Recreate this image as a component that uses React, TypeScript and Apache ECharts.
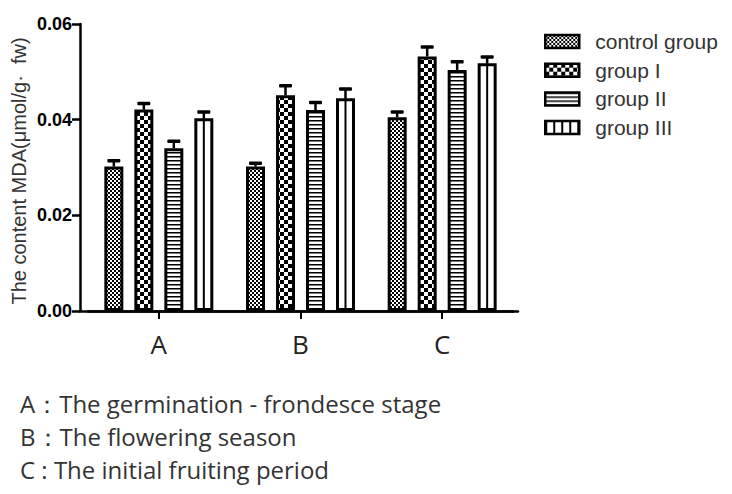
import React, { useEffect, useRef } from "react";
import * as echarts from "echarts";

const categories = ["A", "B", "C"];
const groupNames = ["control group", "group I", "group II", "group III"];
const controlValues = [0.0302, 0.0302, 0.0405];
const group1Values = [0.0421, 0.0451, 0.0532];
const group2Values = [0.034, 0.042, 0.0504];
const group3Values = [0.0403, 0.0445, 0.0518];
const controlErr = [0.0012, 0.0007, 0.0011];
const group1Err = [0.0013, 0.002, 0.002];
const group2Err = [0.0015, 0.0016, 0.0017];
const group3Err = [0.0013, 0.0019, 0.0013];
const yTicks = [0, 0.02, 0.04, 0.06];
const notes = [
  "A：The germination - frondesce stage",
  "B：The flowering season",
  "C : The initial fruiting period",
];
const yTitle = "The content MDA(μmol/g·  fw)";

const BAR_W = 0.134;
const BAR_GAP = 0.58;

function makePattern(w: number, h: number, draw: (ctx: CanvasRenderingContext2D) => void) {
  const c = document.createElement("canvas");
  c.width = w;
  c.height = h;
  const ctx = c.getContext("2d")!;
  ctx.fillStyle = "#fff";
  ctx.fillRect(0, 0, w, h);
  ctx.fillStyle = "#000";
  draw(ctx);
  return { image: c, repeat: "repeat", imageWidth: w, imageHeight: h } as any;
}

export default function App() {
  const ref = useRef<HTMLDivElement>(null);
  useEffect(() => {
    if (!ref.current) return;
    const chart = echarts.init(ref.current, undefined, { renderer: "svg" });

    const pControl = makePattern(4, 4, (ctx) => {
      ctx.fillRect(0, 0, 2, 2);
      ctx.fillRect(2, 2, 2, 2);
    });
    const pGroup1 = makePattern(8, 8, (ctx) => {
      ctx.fillRect(0, 0, 4, 4);
      ctx.fillRect(4, 4, 4, 4);
    });
    const pGroup2 = makePattern(4, 4, (ctx) => {
      ctx.fillRect(0, 0, 4, 1.5);
    });
    const pGroup3Legend = makePattern(8, 4, (ctx) => {
      ctx.fillRect(0, 0, 2, 4);
    });
    const fills = [pControl, pGroup1, pGroup2, "#ffffff"];
    const valueSets = [controlValues, group1Values, group2Values, group3Values];
    const errSets = [controlErr, group1Err, group2Err, group3Err];

    const barSeries = groupNames.map((name, gi) => ({
      name,
      type: "bar",
      xAxisIndex: 0,
      yAxisIndex: 0,
      barWidth: (BAR_W * 100).toFixed(1) + "%",
      barGap: (BAR_GAP * 100).toFixed(0) + "%",
      itemStyle: { color: fills[gi], borderColor: "#000", borderWidth: 3 },
      data: valueSets[gi],
    }));

    const errData: number[][] = [];
    valueSets.forEach((vals, gi) => {
      vals.forEach((v, ci) => errData.push([ci, v, errSets[gi][ci], gi]));
    });

    const errSeries = {
      name: "error",
      type: "custom",
      xAxisIndex: 0,
      yAxisIndex: 0,
      clip: false,
      z: 5,
      encode: { x: 0, y: 1 },
      data: errData,
      renderItem: (params: any, api: any) => {
        const ci = api.value(0);
        const v = api.value(1);
        const e = api.value(2);
        const gi = api.value(3);
        const base = api.coord([ci, 0]);
        const p = api.coord([ci, v]);
        const t = api.coord([ci, v + e]);
        const band = api.size([1, 0])[0];
        const bw = band * BAR_W;
        const x = p[0] + (gi - 1.5) * bw * (1 + BAR_GAP);
        const children: any[] = [
          { type: "line", shape: { x1: x, y1: p[1], x2: x, y2: t[1] }, style: { stroke: "#000", lineWidth: 2.5 } },
          { type: "rect", shape: { x: x - 6.5, y: t[1] - 1.75, width: 13, height: 3.5, r: 1 }, style: { fill: "#000" } },
        ];
        if (gi === 3) {
          children.push({
            type: "line",
            shape: { x1: x, y1: p[1], x2: x, y2: base[1] },
            style: { stroke: "#000", lineWidth: 2 },
          });
        }
        return { type: "group", children };
      },
    };

    const legendIcons = [pControl, pGroup1, pGroup2, pGroup3Legend];

    chart.setOption({
      animation: false,
      backgroundColor: "#fff",
      grid: [
        { left: 88, right: 219, top: 24, bottom: 183 },
        { left: 80, right: 214, top: 24, bottom: 183 },
      ],
      legend: {
        orient: "vertical",
        left: 544,
        top: 31,
        padding: 0,
        itemWidth: 34,
        itemHeight: 13,
        itemGap: 7.7,
        icon: "rect",
        selectedMode: false,
        data: groupNames.map((name, gi) => ({
          name,
          itemStyle: { color: legendIcons[gi], borderColor: "#000", borderWidth: 2.5 },
        })),
        textStyle: {
          fontFamily: "Liberation Sans",
          fontSize: 21,
          lineHeight: 21,
          color: "#333",
          padding: [0, 0, 0, 11],
        },
      },
      xAxis: [
        {
          type: "category",
          gridIndex: 0,
          data: categories,
          axisLine: { show: true, lineStyle: { color: "#000", width: 2.5 } },
          axisTick: { show: true, alignWithLabel: true, length: 8, lineStyle: { color: "#000", width: 2 } },
          axisLabel: {
            margin: 20,
            fontFamily: "Open Sans",
            fontSize: 26,
            color: "#222",
          },
        },
        {
          type: "value",
          gridIndex: 1,
          min: 0,
          max: 1,
          axisLine: { show: true, onZero: false, lineStyle: { color: "#000", width: 2.5 } },
          axisTick: { show: false },
          axisLabel: { show: false },
          splitLine: { show: false },
        },
      ],
      yAxis: [
        {
          type: "value",
          gridIndex: 0,
          min: 0,
          max: 0.06,
          show: false,
        },
        {
          type: "value",
          gridIndex: 1,
          min: yTicks[0],
          max: yTicks[yTicks.length - 1],
          interval: 0.02,
          axisLine: { show: true, lineStyle: { color: "#000", width: 2.5 } },
          axisTick: { show: true, length: 8, lineStyle: { color: "#000", width: 2.5 } },
          splitLine: { show: false },
          axisLabel: {
            margin: 8,
            fontFamily: "Liberation Sans",
            fontWeight: "bold",
            fontSize: 18,
            color: "#000",
            formatter: (v: number) => v.toFixed(2),
          },
        },
      ],
      series: [...barSeries, errSeries],
      graphic: [
        {
          type: "text",
          x: 19,
          y: 171,
          rotation: Math.PI / 2,
          style: {
            text: yTitle,
            fontFamily: "Liberation Sans",
            fontSize: 20,
            fill: "#333",
            textAlign: "center",
            textVerticalAlign: "middle",
          },
        },
        ...notes.map((n, i) => ({
          type: "text",
          x: 20,
          y: 403 + i * 33,
          style: {
            text: n,
            fontFamily: "Open Sans",
            fontSize: 24,
            fill: "#333",
            textAlign: "left",
            textVerticalAlign: "middle",
          },
        })),
      ],
    });
    return () => chart.dispose();
  }, []);
  return (
    <div
      ref={ref}
      style={{ position: "fixed", left: 0, top: 0, width: 732, height: 494, background: "#fff" }}
    />
  );
}
